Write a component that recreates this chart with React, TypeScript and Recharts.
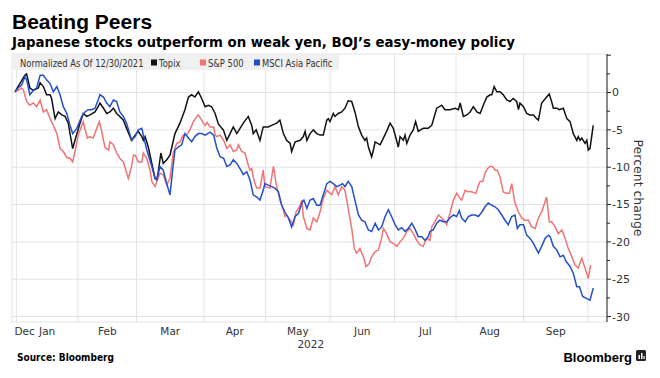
import React from 'react';
import { LineChart, Line, XAxis, YAxis, CartesianGrid } from 'recharts';

// x = weekday index counted from 12/30/2021 (0), y = percent change
const TOPIX: [number, number][] = [[1.0,0.1],[4.4,2.3],[5.0,2.5],[6.1,0.6],[7.3,0.3],[9.0,0.6],[9.6,1.3],[10.7,0.8],[11.8,-0.3],[13.0,-0.3],[13.5,-0.8],[14.7,-3.5],[15.8,-2.6],[17.0,-3.0],[18.1,-3.2],[19.2,-4.1],[19.8,-5.5],[20.7,-7.5],[21.5,-6.4],[23.2,-4.1],[24.3,-2.8],[25.5,-3.2],[26.6,-3.0],[28.3,-2.6],[29.4,-1.9],[30.0,-1.4],[31.2,-2.1],[32.3,-2.8],[33.4,-2.6],[34.6,-2.1],[35.7,-2.8],[36.8,-3.2],[38.0,-3.7],[39.1,-4.8],[40.8,-6.4],[42.0,-5.7],[43.1,-5.2],[44.3,-5.9],[44.8,-6.4],[45.4,-5.9],[46.5,-7.3],[47.7,-9.5],[48.8,-11.5],[49.4,-11.7],[49.9,-10.6],[50.8,-8.1],[51.6,-9.5],[52.8,-9.0],[53.9,-8.4],[55.6,-5.5],[57.3,-4.1],[59.0,-2.3],[60.2,-0.6],[61.3,-0.3],[62.4,-0.6],[63.6,0.1],[64.7,-0.8],[65.9,-1.9],[67.0,-1.7],[68.1,-1.9],[69.3,-2.8],[70.4,-4.2],[71.6,-4.8],[72.1,-5.0],[73.3,-6.4],[74.4,-5.5],[75.5,-4.6],[76.7,-5.5],[77.8,-4.8],[78.9,-4.1],[80.6,-3.2],[81.8,-4.4],[82.3,-5.5],[83.3,-5.0],[84.6,-6.4],[85.7,-4.6],[87.4,-4.6],[88.6,-4.4],[90.3,-4.1],[91.4,-3.7],[92.6,-5.5],[93.7,-6.4],[94.9,-6.8],[95.4,-7.9],[96.6,-6.6],[98.3,-6.4],[99.4,-5.9],[100.0,-5.2],[100.6,-6.4],[101.7,-5.5],[102.8,-5.0],[104.0,-5.5],[105.1,-5.7],[106.2,-5.7],[107.4,-3.7],[107.9,-3.5],[108.5,-3.9],[109.6,-2.8],[110.2,-3.2],[111.3,-2.8],[112.5,-2.6],[113.6,-2.1],[114.7,-1.1],[115.9,-1.2],[117.0,-2.6],[118.2,-4.6],[119.3,-5.7],[120.4,-6.4],[121.0,-6.1],[121.6,-7.3],[122.7,-8.6],[123.3,-7.7],[123.9,-6.6],[125.6,-7.0],[126.7,-6.1],[127.8,-5.2],[129.0,-4.1],[130.1,-4.8],[131.8,-7.3],[132.4,-5.9],[133.5,-6.4],[134.1,-5.7],[134.7,-6.8],[135.8,-5.7],[136.9,-5.0],[137.7,-3.9],[138.6,-5.2],[140.3,-4.8],[142.0,-4.8],[143.2,-4.4],[144.9,-2.1],[146.6,-1.7],[147.7,-2.3],[149.4,-2.3],[151.2,-2.1],[152.3,-2.3],[152.9,-1.4],[154.0,-3.2],[155.2,-3.0],[156.3,-2.6],[157.4,-1.9],[158.6,-2.6],[159.7,-2.8],[160.8,-1.7],[162.0,-0.6],[163.1,-0.3],[163.7,-0.3],[164.5,0.8],[165.4,0.1],[166.5,0.1],[167.6,-0.3],[168.8,-1.0],[169.9,-1.2],[171.0,-0.8],[172.2,-1.2],[172.8,-2.3],[173.3,-1.4],[174.5,-1.9],[175.6,-2.8],[176.7,-3.0],[177.9,-3.0],[179.0,-3.5],[179.6,-3.7],[180.7,-1.4],[182.4,-0.6],[183.3,-0.2],[184.1,-1.2],[184.7,-2.1],[185.9,-2.1],[186.7,-2.3],[188.1,-2.1],[189.3,-3.5],[190.4,-3.9],[191.5,-5.5],[192.7,-6.4],[193.2,-5.9],[193.8,-6.4],[194.4,-6.1],[195.5,-6.8],[196.1,-6.4],[196.6,-7.7],[197.2,-7.5],[198.3,-4.4]];

const SP500: [number, number][] = [[1.0,0.1],[2.1,0.3],[3.3,0.6],[3.9,0.3],[5.0,-1.2],[6.1,-1.7],[7.3,-1.4],[8.4,-1.9],[9.6,-1.0],[10.7,-2.6],[11.8,-2.3],[13.0,-3.5],[14.1,-4.4],[15.3,-5.5],[16.4,-7.5],[17.5,-7.9],[18.7,-8.7],[19.8,-8.8],[20.7,-9.3],[21.5,-7.9],[22.6,-5.7],[24.3,-3.9],[25.7,-6.1],[26.6,-5.9],[27.7,-6.1],[28.9,-4.8],[29.8,-3.9],[30.6,-5.2],[31.7,-7.3],[32.9,-7.7],[33.4,-6.6],[34.6,-7.0],[35.7,-8.1],[36.8,-8.8],[38.0,-9.3],[39.7,-11.5],[40.8,-9.9],[41.4,-8.4],[42.0,-8.4],[43.1,-9.3],[44.3,-9.3],[44.8,-8.1],[46.0,-8.8],[47.1,-10.4],[47.7,-11.9],[48.8,-12.6],[49.4,-11.9],[50.5,-10.8],[51.6,-11.0],[52.8,-12.4],[53.9,-11.5],[55.0,-8.1],[56.2,-6.8],[57.3,-6.6],[58.4,-5.7],[59.6,-5.7],[60.7,-5.0],[61.9,-3.9],[63.4,-3.0],[64.1,-3.3],[65.3,-4.1],[65.9,-4.4],[66.5,-4.0],[67.6,-4.6],[68.8,-4.6],[69.3,-5.7],[69.9,-5.9],[71.0,-5.7],[72.2,-6.4],[73.3,-7.5],[74.4,-7.0],[75.5,-7.9],[76.7,-7.7],[77.2,-7.0],[78.4,-7.9],[79.5,-8.1],[80.6,-9.7],[81.2,-10.4],[81.8,-10.2],[82.3,-11.3],[82.9,-12.2],[83.5,-12.8],[84.6,-12.8],[85.2,-11.5],[85.7,-10.4],[86.3,-12.6],[88.0,-12.8],[89.2,-9.9],[90.1,-12.2],[91.4,-14.4],[92.6,-15.7],[93.1,-16.6],[93.7,-16.4],[94.9,-17.1],[96.0,-17.7],[96.9,-16.0],[97.7,-15.5],[98.3,-15.1],[98.9,-14.4],[99.4,-16.6],[100.6,-18.2],[101.7,-18.4],[102.8,-16.8],[104.0,-17.3],[105.1,-16.0],[106.2,-14.2],[107.4,-13.1],[109.1,-13.7],[110.2,-12.6],[111.3,-13.7],[112.5,-12.6],[113.6,-13.1],[114.7,-15.5],[115.9,-18.2],[116.8,-20.9],[117.6,-21.5],[118.7,-20.9],[119.9,-22.0],[120.8,-23.3],[121.9,-22.9],[122.7,-22.0],[123.9,-21.3],[125.0,-21.1],[126.1,-19.5],[126.7,-18.2],[127.8,-18.9],[129.0,-20.0],[130.1,-20.2],[131.3,-20.6],[132.4,-20.0],[133.5,-19.5],[134.7,-18.6],[135.8,-18.2],[136.9,-18.9],[138.1,-19.8],[139.2,-20.4],[140.3,-20.6],[141.5,-19.5],[142.6,-19.8],[143.2,-18.0],[144.3,-17.3],[145.5,-16.4],[146.6,-16.8],[147.7,-17.3],[148.3,-17.7],[149.4,-16.2],[150.6,-14.4],[151.7,-13.5],[152.9,-14.2],[153.4,-14.4],[154.6,-13.1],[155.7,-13.3],[156.8,-13.3],[158.3,-13.5],[159.1,-12.4],[159.7,-11.9],[160.6,-11.9],[161.4,-10.8],[162.2,-10.2],[163.1,-9.9],[164.0,-9.9],[164.8,-10.4],[165.6,-10.4],[166.5,-11.3],[167.6,-13.3],[168.8,-13.5],[169.7,-13.5],[170.5,-12.2],[171.6,-14.8],[172.8,-16.0],[173.9,-16.8],[175.0,-17.1],[176.2,-17.1],[177.3,-18.0],[178.5,-18.2],[179.6,-16.8],[180.7,-16.0],[182.4,-14.0],[183.3,-17.3],[184.1,-17.3],[185.3,-18.0],[186.4,-18.9],[187.6,-18.4],[188.7,-19.5],[189.8,-20.9],[191.0,-22.0],[192.1,-23.1],[193.2,-23.5],[194.4,-22.2],[195.5,-23.5],[196.6,-24.9],[197.4,-23.1]];

const MSCI_APAC: [number, number][] = [[1.0,0.1],[2.1,0.6],[3.3,1.0],[4.4,2.1],[5.0,1.7],[6.1,-0.3],[7.3,0.3],[8.4,0.6],[9.6,2.3],[10.7,2.3],[11.8,1.7],[13.0,1.2],[14.1,0.1],[15.3,0.8],[16.4,-0.3],[17.5,-1.9],[18.7,-2.8],[19.8,-4.4],[20.7,-5.5],[22.1,-4.8],[23.8,-3.2],[24.9,-2.6],[26.0,-2.3],[27.2,-2.3],[28.3,-2.1],[29.4,-1.0],[30.0,-0.3],[31.2,-0.6],[32.3,-1.4],[33.4,-1.9],[34.6,-1.0],[35.7,-1.2],[36.8,-2.6],[38.0,-3.2],[39.1,-4.1],[40.8,-6.4],[42.0,-5.9],[43.1,-5.0],[44.3,-4.8],[44.8,-5.7],[46.0,-7.7],[47.7,-9.9],[48.8,-11.5],[49.4,-11.7],[50.5,-9.9],[51.6,-10.4],[52.8,-12.2],[53.9,-13.7],[54.8,-10.4],[55.6,-7.7],[56.7,-7.3],[57.9,-7.0],[59.0,-5.5],[60.2,-6.1],[61.3,-6.6],[62.4,-5.9],[63.6,-5.5],[64.7,-5.5],[65.9,-5.7],[67.6,-5.3],[68.8,-5.7],[69.9,-7.5],[71.0,-8.6],[72.2,-8.8],[73.3,-9.9],[74.4,-9.7],[75.5,-9.0],[76.7,-9.5],[78.4,-10.6],[78.9,-11.0],[80.1,-10.6],[81.2,-11.7],[82.3,-13.7],[83.5,-14.0],[84.6,-14.4],[85.7,-13.1],[86.3,-12.2],[87.4,-12.4],[88.6,-12.6],[89.7,-12.8],[90.9,-13.3],[92.0,-15.1],[93.1,-16.0],[94.3,-16.8],[95.4,-18.0],[96.6,-16.6],[97.7,-16.2],[98.9,-14.8],[99.6,-14.4],[100.6,-15.5],[101.7,-14.4],[102.8,-14.2],[104.0,-15.1],[105.1,-15.1],[106.2,-13.7],[107.4,-12.2],[108.5,-11.9],[109.6,-12.2],[110.8,-12.6],[111.9,-12.4],[112.8,-12.2],[113.6,-12.6],[114.7,-11.9],[115.9,-12.6],[117.0,-14.4],[118.2,-16.4],[119.3,-17.1],[120.4,-17.3],[121.6,-18.4],[122.7,-18.6],[123.9,-17.5],[125.0,-18.4],[126.1,-18.0],[127.3,-16.6],[128.4,-15.7],[129.5,-16.6],[130.7,-17.7],[131.8,-18.4],[133.0,-18.1],[134.1,-18.6],[135.2,-18.2],[136.4,-17.5],[137.5,-18.3],[138.6,-19.3],[139.8,-19.3],[140.9,-19.8],[142.0,-19.3],[142.6,-18.6],[143.7,-18.4],[144.9,-17.5],[146.0,-17.1],[147.2,-17.3],[148.3,-17.3],[149.4,-16.8],[150.6,-16.4],[151.7,-16.6],[152.6,-15.8],[153.4,-16.8],[154.6,-17.3],[155.7,-16.6],[156.8,-16.4],[158.0,-16.4],[159.1,-16.6],[160.3,-16.0],[161.4,-15.3],[162.5,-14.8],[163.7,-15.1],[164.8,-15.3],[165.9,-15.7],[167.1,-16.4],[168.2,-17.1],[169.3,-17.7],[170.5,-16.6],[171.6,-16.4],[172.4,-18.2],[173.3,-17.7],[174.5,-17.7],[175.6,-19.1],[176.7,-19.5],[177.9,-20.2],[179.6,-21.5],[180.7,-20.6],[181.9,-19.5],[183.0,-19.1],[183.6,-19.3],[184.7,-20.6],[185.9,-21.1],[187.0,-22.0],[188.1,-21.8],[189.0,-22.6],[190.4,-23.3],[191.5,-24.2],[192.7,-26.0],[193.6,-26.0],[194.7,-27.3],[196.1,-27.6],[197.2,-27.8],[198.3,-26.2]];

const MONTH_LABELS = ['Dec', 'Jan', 'Feb', 'Mar', 'Apr', 'May', 'Jun', 'Jul', 'Aug', 'Sep'];
const MONTH_LABEL_POS = [0.5, 12, 32.5, 54, 76, 97.5, 119.5, 141, 163, 185.5];
const MONTH_STARTS = [1.5, 22.5, 42.5, 65.5, 86.5, 108.5, 130.5, 151.5, 174.5, 196.5];
const YEAR_LABEL = '2022';
const Y_TICKS = [5, 2.5, 0, -2.5, -5, -7.5, -10, -12.5, -15, -17.5, -20, -22.5, -25, -27.5, -30];
const Y_GRID = [0, -5, -10, -15, -20, -25, -30];
const X_DOMAIN: [number, number] = [0, 203];
const Y_DOMAIN: [number, number] = [-30.73, 5.16];

const SANS = '"DejaVu Sans", Verdana, sans-serif';
const ARIAL = '"Liberation Sans", Arial, sans-serif';
const TOPIX_COLOR = '#111111';
const SP_COLOR = '#f07474';
const MSCI_COLOR = '#2350c8';

const toRows = (arr: [number, number][]) => arr.map(([d, v]) => ({ day: d, v }));

function XTick(props: any) {
  const { x, y, payload } = props;
  const i = MONTH_LABEL_POS.indexOf(payload.value);
  const label = MONTH_LABELS[i];
  const first = i === 0;
  return (
    <g>
      <text x={first ? x + 1 : x} y={y + 13} textAnchor={first ? 'start' : 'middle'} fontSize={10.5} fill="#333"
        fontFamily={SANS}>{label}</text>
      {label === 'May' && (
        <text x={x + 13} y={y + 26} textAnchor="middle" fontSize={10.5} fill="#333" fontFamily={SANS}>{YEAR_LABEL}</text>
      )}
    </g>
  );
}

function YTick(props: any) {
  const { x, y, payload } = props;
  const v = payload.value;
  const major = Math.abs(v % 5) < 1e-6;
  return (
    <g>
      <line x1={x} x2={x + (major ? 4 : 3)} y1={y} y2={y} stroke="#222" strokeWidth={1} />
      {major && v <= 0 && (
        <text x={x + 5} y={y} dy="0.36em" fontSize={11} fill="#333" fontFamily={SANS}>{String(v)}</text>
      )}
    </g>
  );
}

function LegendText({ x, label }: { x: number; label: string }) {
  return (
    <g transform={`translate(${x} 66.5) scale(0.84 1)`}>
      <text x={0} y={0} fontSize={10} fill="#333" fontFamily={SANS}>{label}</text>
    </g>
  );
}

export default function App() {
  return (
    <div style={{ position: 'absolute', left: 0, top: 0, width: 660, height: 378, background: '#fff', overflow: 'hidden' }}>
      <LineChart width={660} height={378} margin={{ top: 54, right: 0, bottom: 0, left: 12 }}>
        <XAxis xAxisId="x" type="number" dataKey="day" domain={X_DOMAIN} ticks={MONTH_LABEL_POS} interval={0}
          axisLine={false} tickLine={false} tickSize={0} tickMargin={0} height={56} tick={<XTick />} allowDataOverflow />
        <XAxis xAxisId="gx" orientation="top" type="number" dataKey="day" domain={X_DOMAIN} ticks={MONTH_STARTS} hide allowDataOverflow />
        <YAxis yAxisId="y" orientation="right" type="number" domain={Y_DOMAIN} ticks={Y_TICKS} interval={0}
          width={53} axisLine={{ stroke: '#222', strokeWidth: 1 }} tickLine={false} tickSize={0} tickMargin={0}
          tick={<YTick />} allowDataOverflow />
        <YAxis yAxisId="gy" orientation="left" type="number" domain={Y_DOMAIN} ticks={Y_GRID} hide allowDataOverflow />
        <CartesianGrid xAxisId="gx" yAxisId="gy" stroke="#e4e4e4" strokeWidth={1} />
        <Line xAxisId="x" yAxisId="y" data={toRows(TOPIX)} dataKey="v" type="linear" stroke={TOPIX_COLOR} strokeWidth={1.5} dot={false} isAnimationActive={false} />
        <Line xAxisId="x" yAxisId="y" data={toRows(SP500)} dataKey="v" type="linear" stroke={SP_COLOR} strokeWidth={1.5} dot={false} isAnimationActive={false} />
        <Line xAxisId="x" yAxisId="y" data={toRows(MSCI_APAC)} dataKey="v" type="linear" stroke={MSCI_COLOR} strokeWidth={1.5} dot={false} isAnimationActive={false} />
      </LineChart>
      <svg width={660} height={378} style={{ position: 'absolute', left: 0, top: 0, pointerEvents: 'none' }}>
        <text x={12} y={29} fontSize={21} fontWeight={700} fill="#000" fontFamily={ARIAL}>Beating Peers</text>
        <text x={12} y={47} fontSize={13.4} fontWeight={700} fill="#000" fontFamily={SANS}
          textLength={503} lengthAdjust="spacingAndGlyphs">Japanese stocks outperform on weak yen, BOJ’s easy-money policy</text>
        <rect x={13} y={53} width={326} height={17} fill="#f0f0f0" />
        <LegendText x={20} label="Normalized As Of 12/30/2021" />
        <rect x={151} y={59.5} width={6} height={6} fill={TOPIX_COLOR} />
        <LegendText x={159} label="Topix" />
        <rect x={200} y={59.5} width={6} height={6} fill={SP_COLOR} />
        <LegendText x={208} label="S&P 500" />
        <rect x={254} y={59.5} width={6} height={6} fill={MSCI_COLOR} />
        <LegendText x={262} label="MSCI Asia Pacific" />
        <text x={638} y={188} fontSize={13} fill="#333" textAnchor="middle" dominantBaseline="central" transform="rotate(90 638 188)"
          fontFamily={SANS} textLength={97} lengthAdjust="spacingAndGlyphs">Percent change</text>
        <text x={17} y={361} fontSize={10} fontWeight={700} fill="#000" fontFamily={SANS} textLength={97} lengthAdjust="spacingAndGlyphs">Source: Bloomberg</text>
        <text x={632} y={362} fontSize={13} fontWeight={700} fill="#000" textAnchor="end" fontFamily={ARIAL}>Bloomberg</text>
        <rect x={636} y={350} width={10} height={11} rx={1.5} fill="#222" />
        <rect x={638.5} y={355} width={1.5} height={4} fill="#fff" />
        <rect x={641} y={353} width={1.5} height={6} fill="#fff" />
        <rect x={643.5} y={356} width={1.2} height={3} fill="#fff" />
      </svg>
    </div>
  );
}
